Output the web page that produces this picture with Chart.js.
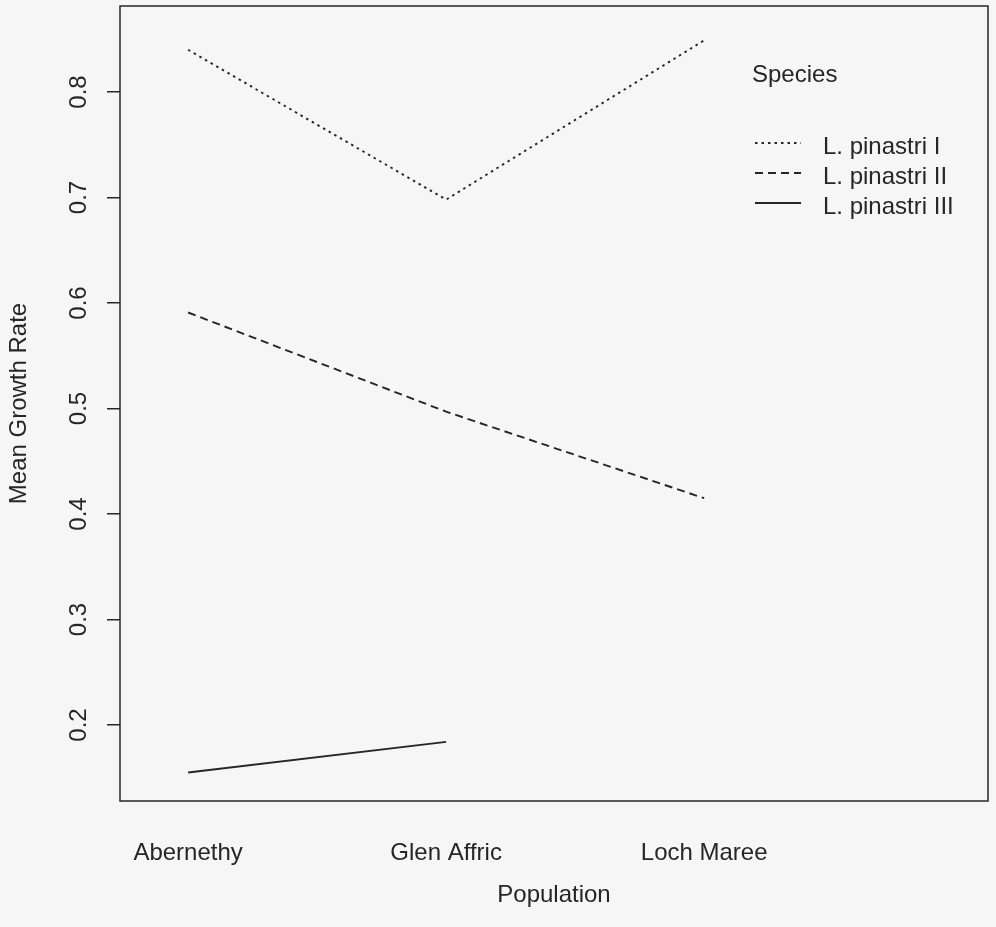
<!DOCTYPE html>
<html>
<head>
<meta charset="utf-8">
<script src="https://cdn.jsdelivr.net/npm/chart.js@4.4.1/dist/chart.umd.min.js"></script>
<style>
  html, body { margin: 0; padding: 0; background: #f6f6f6; }
  #wrap { width: 996px; height: 927px; }
</style>
</head>
<body>
<div id="wrap"><canvas id="c" width="996" height="927"></canvas></div>
<script>
// ---- data ----
const categories = ['Abernethy', 'Glen Affric', 'Loch Maree'];
const seriesNames = ['L. pinastri I', 'L. pinastri II', 'L. pinastri III'];
const speciesI   = [0.840, 0.698, 0.849];
const speciesII  = [0.591, 0.497, 0.415];
const speciesIII = [0.155, 0.184, null];
const yTickValues = [0.2, 0.3, 0.4, 0.5, 0.6, 0.7, 0.8];
const legendTitle = 'Species';
const xTitle = 'Population';
const yTitle = 'Mean Growth Rate';

// ---- styling ----
const FONT = { family: '"Liberation Sans", Arial, Helvetica, sans-serif', size: 24 };
const INK = '#262626';

function toPoints(arr) {
  return arr.map((v, i) => ({ x: i + 1, y: v }));
}

const framePlugin = {
  id: 'frame',
  afterDatasetsDraw(chart) {
    const { ctx, chartArea: a } = chart;
    ctx.save();
    ctx.strokeStyle = INK;
    ctx.lineWidth = 1.5;
    ctx.setLineDash([]);
    ctx.strokeRect(a.left, a.top, a.right - a.left, a.bottom - a.top);
    ctx.restore();
  }
};

const legendPlugin = {
  id: 'rLegend',
  afterDraw(chart) {
    const { ctx } = chart;
    ctx.save();
    ctx.fillStyle = INK;
    ctx.font = FONT.size + 'px ' + FONT.family;
    ctx.textBaseline = 'middle';
    ctx.textAlign = 'left';
    ctx.fillText(legendTitle, 752, 75);
    chart.data.datasets.forEach((ds, i) => {
      const ty = 147 + i * 30;
      const ly = ty - 4;
      ctx.strokeStyle = ds.borderColor;
      ctx.lineWidth = ds.borderWidth;
      ctx.setLineDash(ds.borderDash || []);
      ctx.beginPath();
      ctx.moveTo(755, ly);
      ctx.lineTo(801, ly);
      ctx.stroke();
      ctx.setLineDash([]);
      ctx.fillText(ds.label, 823, ty);
    });
    ctx.restore();
  }
};

const dashes = [[2.5, 4], [8, 5], []];
const seriesData = [speciesI, speciesII, speciesIII];

function noPad(s) {
  s.paddingTop = 0; s.paddingBottom = 0; s.paddingLeft = 0; s.paddingRight = 0;
}

const chart = new Chart(document.getElementById('c').getContext('2d'), {
  type: 'line',
  data: {
    datasets: seriesData.map((arr, i) => ({
      label: seriesNames[i],
      data: toPoints(arr),
      borderColor: INK,
      borderWidth: 1.9,
      borderDash: dashes[i],
      pointRadius: 0,
      tension: 0,
      fill: false,
      spanGaps: false
    }))
  },
  options: {
    responsive: false,
    animation: false,
    devicePixelRatio: 1,
    layout: { padding: { top: 6, right: 8, left: 0, bottom: 0 } },
    plugins: { legend: { display: false }, tooltip: { enabled: false } },
    scales: {
      x: {
        type: 'linear',
        min: 0.736,
        max: 4.1,
        afterBuildTicks: s => { s.ticks = categories.map((c, i) => ({ value: i + 1 })); },
        afterFit: s => { s.height = 126; noPad(s); },
        ticks: {
          callback: v => categories[Math.round(v) - 1],
          font: FONT, color: INK, padding: 37.6,
          maxRotation: 0, minRotation: 0, autoSkip: false
        },
        grid: { display: false, drawTicks: false },
        border: { display: false },
        title: { display: true, text: xTitle, font: FONT, color: INK, padding: { top: 0, bottom: 17.6 } }
      },
      y: {
        type: 'linear',
        min: 0.128,
        max: 0.8815,
        afterBuildTicks: s => { s.ticks = yTickValues.map(v => ({ value: v })); },
        afterFit: s => { s.width = 120; noPad(s); },
        ticks: {
          callback: v => v.toFixed(1),
          font: FONT, color: INK, padding: 11.3,
          minRotation: 90, maxRotation: 90, crossAlign: 'center', autoSkip: false
        },
        grid: { display: true, drawOnChartArea: false, drawTicks: true, tickLength: 13, color: INK, lineWidth: 1.5 },
        border: { display: false },
        title: { display: true, text: yTitle, font: FONT, color: INK, padding: { top: 4.6, bottom: 0 } }
      }
    }
  },
  plugins: [framePlugin, legendPlugin]
});
</script>
</body>
</html>
